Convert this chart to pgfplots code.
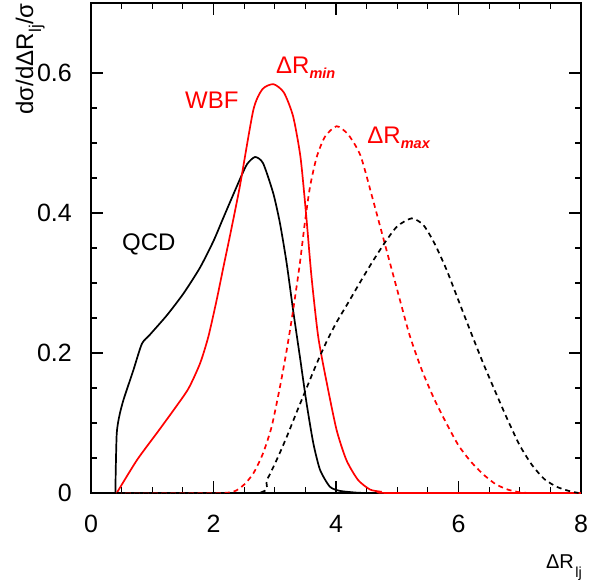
\documentclass[border=0pt]{standalone}
\usepackage{fontspec}
\setmainfont{Liberation Sans}
\usepackage{pgfplots}
\pgfplotsset{compat=1.18}
\definecolor{myred}{RGB}{255,0,0}
% subscript: #1 = size, #2 = drop, #3 = text
\newcommand{\sub}[3]{\raisebox{-#2}{\fontsize{#1}{#1}\selectfont #3}}
\begin{document}
\begin{tikzpicture}
\begin{axis}[
  name=ax,
  scale only axis,
  width=490pt, height=490pt,
  xmin=0, xmax=8, ymin=0, ymax=0.7,
  xtick={0,2,4,6,8}, ytick={0,0.2,0.4,0.6},
  minor x tick num=3, minor y tick num=3,
  xtick pos=both, ytick pos=both,
  xticklabel pos=lower, yticklabel pos=left,
  tick align=inside,
  major tick length=12pt, minor tick length=6pt,
  every tick/.style={black, line width=1.2pt},
  axis line style={line width=2pt},
  /pgf/number format/assume math mode=true,
  yticklabel={\pgfmathprintnumber[fixed,precision=1]{\tick}},
  ticklabel style={font=\fontsize{25}{28}\selectfont, inner sep=0pt},
  xticklabel style={yshift=-22pt},
  yticklabel style={xshift=-19pt},
  xlabel={ΔR\kern1.5pt\sub{14.5pt}{9pt}{lj}},
  xlabel style={font=\fontsize{20}{22}\selectfont, at={(axis description cs:1,0)}, anchor=base east, yshift=-75pt, xshift=1pt, inner sep=0pt},
  ylabel={dσ/dΔR\kern1pt\sub{17pt}{8pt}{lj}/σ},
  ylabel style={font=\fontsize{24}{27}\selectfont, at={(axis description cs:-0.118,1)}, anchor=base east, inner sep=0pt},
  clip=true,
]
% QCD min (black solid)
\addplot[black, line width=1.7pt, smooth, tension=0.4] coordinates {
(0.40,0) (0.403,0.028) (0.42,0.085) (0.46,0.109) (0.53,0.133) (0.69,0.175) (0.83,0.213)
(0.96,0.226) (1.24,0.254) (1.51,0.285) (1.78,0.322) (2.00,0.360) (2.16,0.393) (2.43,0.448)
(2.55,0.470) (2.68,0.480) (2.81,0.471) (2.976,0.428) (3.086,0.385) (3.195,0.328) (3.30,0.261)
(3.41,0.195) (3.52,0.128) (3.63,0.071) (3.74,0.033) (3.90,0.009) (4.065,0.003) (4.34,0.0005) (4.5,0)
};
% WBF min (red solid)
\addplot[myred, line width=1.7pt, smooth, tension=0.4] coordinates {
(0.42,0) (0.75,0.047) (1.07,0.085) (1.345,0.118) (1.59,0.149) (1.78,0.185) (1.915,0.223)
(2.05,0.275) (2.16,0.322) (2.27,0.368) (2.43,0.438) (2.65,0.547) (2.80,0.577) (2.98,0.584)
(3.15,0.572) (3.30,0.538) (3.42,0.480) (3.51,0.400) (3.60,0.309) (3.71,0.223) (3.85,0.157)
(4.01,0.090) (4.17,0.047) (4.36,0.0186) (4.555,0.005) (4.72,0.002) (4.9,0) (8,0)
};
% WBF max (red dashed)
\addplot[myred, line width=1.7pt, dash pattern=on 5pt off 4pt, smooth, tension=0.4] coordinates {
(0.42,0) (2.16,0) (2.46,0.009) (2.65,0.028) (2.81,0.057) (2.95,0.095) (3.086,0.152) (3.195,0.204)
(3.30,0.261) (3.41,0.328) (3.49,0.385) (3.576,0.4376) (3.685,0.480) (3.82,0.509) (4.01,0.524)
(4.2,0.512) (4.4,0.482) (4.6,0.420) (4.8,0.355) (5.0,0.290) (5.2,0.226) (5.4,0.176)
(5.6,0.135) (5.8,0.100) (6.0,0.068) (6.2,0.045) (6.4,0.027) (6.6,0.013) (6.8,0.005) (7.0,0.001) (7.2,0) (8,0)
};
% QCD max (black dashed)
\addplot[black, line width=1.7pt, dash pattern=on 5pt off 4pt, smooth, tension=0.4] coordinates {
(0.42,0) (2.70,0) (2.87,0.0186) (3.03,0.047) (3.195,0.080) (3.36,0.116) (3.52,0.150)
(3.685,0.185) (3.85,0.217) (4.01,0.244) (4.2,0.272) (4.4,0.302) (4.6,0.331)
(4.8,0.358) (5.0,0.381) (5.236,0.3924) (5.425,0.383) (5.6,0.358) (5.8,0.320) (6.0,0.275)
(6.2,0.230) (6.4,0.186) (6.6,0.145) (6.8,0.105) (7.0,0.068) (7.2,0.040)
(7.4,0.020) (7.6,0.009) (7.8,0.003) (7.96,0)
};
\node[anchor=base west, inner sep=0pt, font=\fontsize{24}{27}\selectfont] at (axis cs:0.506,0.346) {QCD};
\node[anchor=base west, inner sep=0pt, text=myred, font=\fontsize{24}{27}\selectfont] at (axis cs:1.535,0.549) {WBF};
\node[anchor=base west, inner sep=0pt, text=myred, font=\fontsize{24}{27}\selectfont] at (axis cs:3.02,0.599) {ΔR\sub{14.5pt}{4.5pt}{\bfseries\itshape min}};
\node[anchor=base west, inner sep=0pt, text=myred, font=\fontsize{24}{27}\selectfont] at (axis cs:4.51,0.499) {ΔR\sub{14.5pt}{4.5pt}{\bfseries\itshape max}};
\end{axis}
\path (ax.south west) ++(-91pt,-91pt) rectangle ++(591pt,584pt);
\end{tikzpicture}
\end{document}
